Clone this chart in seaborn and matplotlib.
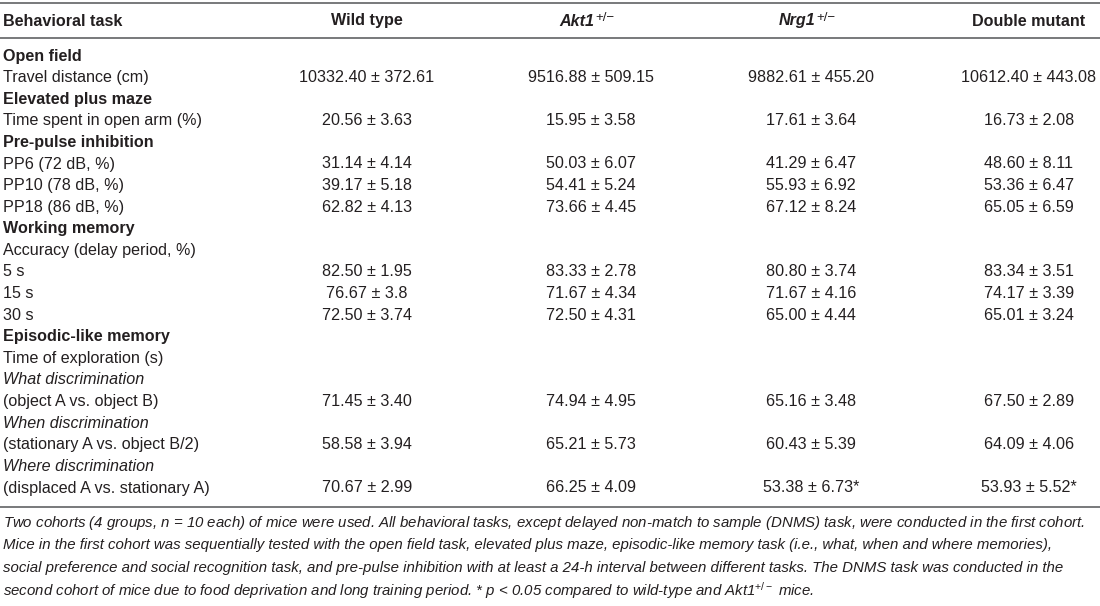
import matplotlib
matplotlib.use('Agg')
import matplotlib.pyplot as plt
import seaborn as sns
from matplotlib import font_manager

# table content
label_header = 'Behavioral task'
group_names = ['Wild type', 'Akt1', 'Nrg1', 'Double mutant']
group_sup = ['', '+/−', '+/−', '']

row_labels = ['Open field', 'Travel distance (cm)',
              'Elevated plus maze', 'Time spent in open arm (%)',
              'Pre-pulse inhibition', 'PP6 (72 dB, %)', 'PP10 (78 dB, %)', 'PP18 (86 dB, %)',
              'Working memory', 'Accuracy (delay period, %)', '5 s', '15 s', '30 s',
              'Episodic-like memory', 'Time of exploration (s)',
              'What discrimination', '(object A vs. object B)',
              'When discrimination', '(stationary A vs. object B/2)',
              'Where discrimination', '(displaced A vs. stationary A)']

section_rows = ['Open field', 'Elevated plus maze', 'Pre-pulse inhibition',
                'Working memory', 'Episodic-like memory']
italic_rows = ['What discrimination', 'When discrimination', 'Where discrimination']

wild_type = ['', '10332.40 ± 372.61', '', '20.56 ± 3.63', '',
             '31.14 ± 4.14', '39.17 ± 5.18', '62.82 ± 4.13', '', '',
             '82.50 ± 1.95', '76.67 ± 3.8', '72.50 ± 3.74', '', '', '',
             '71.45 ± 3.40', '', '58.58 ± 3.94', '', '70.67 ± 2.99']
akt1 = ['', '9516.88 ± 509.15', '', '15.95 ± 3.58', '',
        '50.03 ± 6.07', '54.41 ± 5.24', '73.66 ± 4.45', '', '',
        '83.33 ± 2.78', '71.67 ± 4.34', '72.50 ± 4.31', '', '', '',
        '74.94 ± 4.95', '', '65.21 ± 5.73', '', '66.25 ± 4.09']
nrg1 = ['', '9882.61 ± 455.20', '', '17.61 ± 3.64', '',
        '41.29 ± 6.47', '55.93 ± 6.92', '67.12 ± 8.24', '', '',
        '80.80 ± 3.74', '71.67 ± 4.16', '65.00 ± 4.44', '', '', '',
        '65.16 ± 3.48', '', '60.43 ± 5.39', '', '53.38 ± 6.73*']
double_mutant = ['', '10612.40 ± 443.08', '', '16.73 ± 2.08', '',
                 '48.60 ± 8.11', '53.36 ± 6.47', '65.05 ± 6.59', '', '',
                 '83.34 ± 3.51', '74.17 ± 3.39', '65.01 ± 3.24', '', '', '',
                 '67.50 ± 2.89', '', '64.09 ± 4.06', '', '53.93 ± 5.52*']

footnote = [
    'Two cohorts (4 groups, $n$ = 10 each) of mice were used. All behavioral tasks, except delayed non-match to sample (DNMS) task, were conducted in the first cohort.',
    'Mice in the first cohort was sequentially tested with the open field task, elevated plus maze, episodic-like memory task (i.e., what, when and where memories),',
    'social preference and social recognition task, and pre-pulse inhibition with at least a 24-h interval between different tasks. The DNMS task was conducted in the',
    r'second cohort of mice due to food deprivation and long training period. * $p$ < 0.05 compared to wild-type and Akt1$^{+/-}$ mice.',
]

sns.set_theme(style='white')
names = {f.name for f in font_manager.fontManager.ttflist}
narrow = 'Liberation Sans Narrow' if 'Liberation Sans Narrow' in names else 'Liberation Sans'
plt.rcParams['font.family'] = ['Liberation Sans', 'DejaVu Sans']
plt.rcParams['mathtext.fontset'] = 'custom'
plt.rcParams['mathtext.rm'] = narrow
plt.rcParams['mathtext.it'] = narrow + ':italic'

ink = '#231f20'
rule = '#6d6e71'

fig = plt.figure(figsize=(11, 6.06), dpi=100)
ax = fig.add_axes([0, 0, 1, 1])
ax.set_xlim(0, 1100)
ax.set_ylim(606, 0)
ax.axis('off')

fs = 11.6
label_x = 3
col_x = [367, 591, 811, 1029]
header_y = 21
first_row_y = 56
row_step = 21.6

# header
ax.text(label_x, header_y, label_header, ha='left', va='center', fontsize=fs,
        fontweight='bold', color=ink)
for x, name, sup in zip(col_x, group_names, group_sup):
    if sup:
        t = ax.text(x - 14, header_y, name, ha='center', va='center', fontsize=fs,
                    fontweight='bold', fontstyle='italic', color=ink)
        ax.annotate(sup, xy=(1.02, 0.3), xycoords=t, ha='left', va='bottom',
                    fontsize=9.5, color=ink)
    else:
        ax.text(x, header_y, name, ha='center', va='center', fontsize=fs,
                fontweight='bold', color=ink)

# rules
for y in (2.5, 37.5, 507):
    ax.axhline(y, color=rule, lw=1.3)

# body
value_cols = [wild_type, akt1, nrg1, double_mutant]
for i, label in enumerate(row_labels):
    y = first_row_y + i * row_step
    weight = 'bold' if label in section_rows else 'normal'
    style = 'italic' if label in italic_rows else 'normal'
    ax.text(label_x, y, label, ha='left', va='center', fontsize=fs,
            fontweight=weight, fontstyle=style, color=ink)
    for x, col in zip(col_x, value_cols):
        if col[i]:
            ax.text(x, y, col[i], ha='center', va='center', fontsize=fs, color=ink)

# footnote
for j, line in enumerate(footnote):
    ax.text(label_x, 523 + j * 22.4, line, ha='left', va='center', fontsize=10.8,
            fontstyle='italic', family=narrow, color=ink)

fig.savefig('out.png', dpi=100)
